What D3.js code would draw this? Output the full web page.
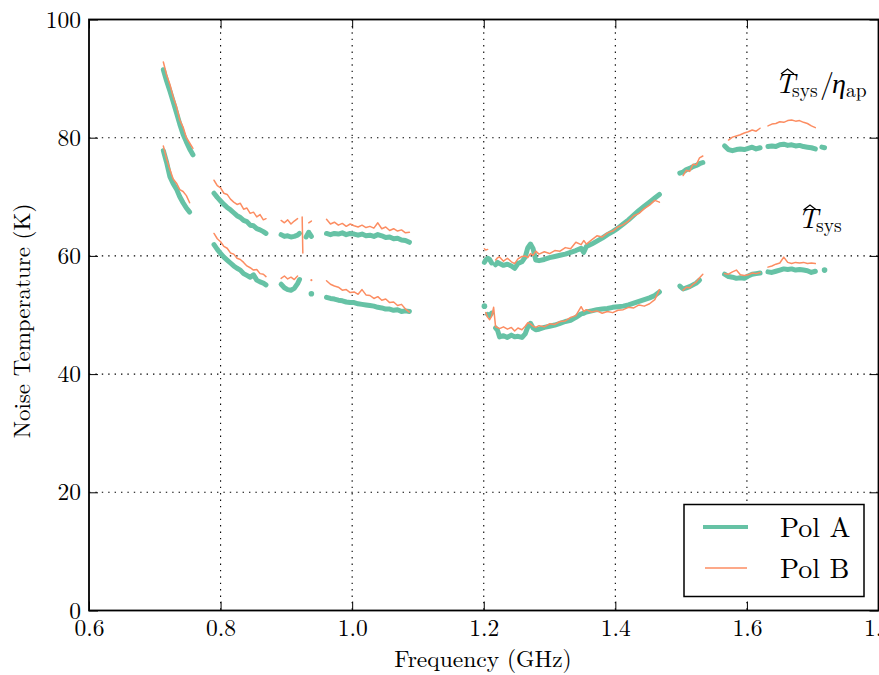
<!DOCTYPE html>
<html><head><meta charset="utf-8">
<script src="https://cdn.jsdelivr.net/npm/d3@7"></script>
<style>body{margin:0;background:#fff}</style>
</head><body>
<svg id="c" width="879" height="675"></svg>
<script>
// Frequency grid (GHz), shared by all series; null values = no data
const freq = [
  0.713,0.718,0.723,0.728,0.733,0.738,0.743,0.748,0.753,0.758,
  0.790,0.795,0.800,0.805,0.810,0.815,0.820,0.825,0.830,0.835,0.840,0.845,0.850,0.855,0.860,0.865,0.869,
  0.892,0.897,0.902,0.907,0.912,0.917,0.920,0.924,0.925,0.930,0.934,0.938,
  0.961,0.967,0.973,0.979,0.985,0.991,0.997,1.003,1.009,1.015,1.021,1.027,1.033,1.039,1.045,1.051,1.057,1.063,1.069,1.075,1.081,1.087,
  1.201,1.203,1.206,1.209,1.212,1.215,1.218,1.221,1.224,1.230,1.236,1.242,1.247,1.252,1.258,1.263,1.267,1.271,1.275,1.279,1.284,1.292,1.300,1.308,1.316,1.324,1.332,1.340,1.348,1.352,1.356,1.364,1.372,1.380,1.388,1.396,1.404,1.412,1.420,1.428,1.436,1.444,1.452,1.460,1.467,
  1.498,1.503,1.508,1.513,1.518,1.523,1.528,1.533,
  1.566,1.572,1.578,1.584,1.590,1.596,1.602,1.608,1.614,1.620,1.626,1.632,1.638,1.644,1.650,1.656,1.662,1.668,1.674,1.680,1.686,1.692,1.698,1.704,1.711,1.714,1.718
];
// Pol A, Tsys / eta_ap (K)
const polA_sysEta = [
  91.5,89.6,87.9,86.1,84.2,82.3,80.6,79.3,78.1,77.1,
  70.6,69.9,69.3,68.7,68.2,67.8,67.3,66.8,66.5,66.0,65.8,65.2,65.1,64.6,64.4,64.1,63.8,
  63.6,63.3,63.4,63.2,63.3,63.5,63.8,null,null,63.2,64.0,63.3,
  63.8,63.6,63.8,63.7,63.9,63.6,63.8,63.7,63.5,63.7,63.4,63.5,63.3,63.6,63.4,63.1,63.2,62.9,63.0,62.7,62.6,62.3,
  58.9,59.3,59.6,59.4,58.8,null,58.5,58.9,58.7,58.4,58.6,58.3,57.9,58.7,59.0,59.8,61.4,62.0,61.2,59.3,59.2,59.4,59.7,59.9,60.1,60.3,60.6,60.9,61.3,60.6,61.6,62.0,62.5,63.0,63.6,64.1,64.7,65.4,66.1,66.9,67.7,68.4,69.1,69.8,70.4,
  74.0,74.2,74.6,74.8,75.1,75.3,75.6,75.8,
  78.6,78.0,77.8,78.0,78.1,78.0,78.2,78.4,78.1,78.3,null,78.5,78.6,78.5,78.8,78.9,78.7,78.8,78.6,78.7,78.5,78.4,78.3,78.1,null,78.4,78.3
];
// Pol B, Tsys / eta_ap (K)
const polB_sysEta = [
  92.8,90.6,89.0,86.9,85.3,83.0,81.8,80.0,79.1,78.2,
  72.8,71.9,71.5,70.6,70.4,69.6,69.1,68.7,68.9,67.9,68.1,67.2,67.4,66.6,67.0,66.1,66.3,
  66.0,65.6,66.1,65.4,65.9,66.3,null,66.6,60.5,null,65.6,65.9,
  66.2,65.4,65.7,65.2,65.5,65.0,65.4,65.1,64.9,65.2,64.8,65.0,64.7,65.6,64.6,64.9,64.3,64.6,64.2,64.4,63.9,64.0,
  61.2,61.0,61.1,null,null,null,59.3,59.7,59.8,59.1,59.6,59.0,58.7,59.5,59.9,60.0,59.7,60.4,60.1,60.8,60.3,60.7,60.4,60.9,60.8,61.4,61.2,62.3,61.9,62.6,62.0,62.7,63.4,63.2,63.9,64.2,64.9,65.3,65.9,66.8,67.2,68.0,68.6,69.4,69.1,
  null,73.6,74.5,74.3,75.5,75.4,76.6,76.9,
  null,79.6,80.1,80.3,80.5,80.8,81.0,81.3,81.1,81.6,null,82.0,82.3,82.4,82.7,82.6,82.9,83.0,82.8,82.9,82.6,82.4,82.0,81.7,null,null,null
];
// Pol A, Tsys (K)
const polA_sys = [
  77.8,75.8,73.4,72.2,71.3,70.0,69.0,68.1,67.4,null,
  61.9,61.1,60.4,59.8,59.3,58.8,58.3,57.9,57.6,57.0,56.7,56.4,56.8,55.9,55.6,55.4,55.1,
  55.2,54.6,54.3,54.2,54.5,55.3,56.0,null,null,null,null,53.6,
  53.0,52.8,52.7,52.5,52.4,52.2,52.1,52.1,51.9,51.8,51.7,51.6,51.5,51.3,51.2,51.0,51.0,50.8,50.9,50.6,50.7,50.6,
  51.5,null,50.1,49.9,50.3,null,47.8,47.4,46.3,46.5,46.2,46.6,46.3,46.4,46.2,46.8,48.0,48.6,47.8,47.5,47.6,47.9,48.1,48.3,48.6,48.9,49.1,49.6,50.2,50.3,50.5,50.7,50.9,51.0,51.1,51.3,51.4,51.5,51.7,52.0,52.3,52.6,52.9,53.3,53.9,
  54.9,54.4,54.6,54.8,55.1,55.4,55.9,null,
  56.9,56.5,56.4,56.2,56.3,56.2,56.6,56.9,57.0,57.1,null,57.3,57.2,57.4,57.6,57.8,57.7,57.8,57.6,57.7,57.6,57.5,57.2,57.4,null,null,57.6
];
// Pol B, Tsys (K)
const polB_sys = [
  78.6,76.4,74.6,73.0,72.3,71.2,70.9,70.2,69.0,null,
  63.8,62.9,62.4,61.6,61.3,60.5,60.3,59.6,59.4,58.9,58.3,58.0,57.6,57.7,57.0,56.9,56.5,
  56.2,56.6,56.1,56.4,56.0,56.6,null,null,null,null,null,55.9,
  55.8,55.2,54.9,54.7,54.2,54.3,53.8,53.9,53.5,54.3,53.4,53.3,52.8,53.1,52.5,52.7,52.1,52.2,51.6,51.8,51.0,50.5,
  null,50.4,49.6,49.2,49.8,51.3,48.0,47.9,47.7,48.0,47.6,47.9,47.3,47.8,47.5,48.1,48.7,48.5,48.1,47.9,48.2,48.0,48.5,48.4,48.9,49.0,49.6,49.9,51.4,50.6,50.9,50.5,50.7,50.3,50.6,50.4,50.8,50.9,51.3,51.2,51.7,51.5,51.9,52.6,54.3,
  null,54.2,54.7,54.6,55.2,55.6,56.3,56.9,
  57.0,56.9,57.3,57.6,56.8,56.7,56.8,57.1,57.0,57.2,null,58.1,58.3,58.6,58.8,59.8,58.9,58.7,58.9,58.8,58.9,58.7,58.8,58.7,null,null,null
];
const xTicks = [0.6,0.8,1.0,1.2,1.4,1.6,1.8];
const yTicks = [0,20,40,60,80,100];
const legendLabels = ["Pol A","Pol B"];

const colA = "#66c2a5", colB = "#fc8d62";
const FONT = '"Latin Modern Roman","Liberation Serif",serif';
const svg = d3.select("#c");
const L = 89, R = 878.5, T = 19.5, B = 610.5;
const x = d3.scaleLinear().domain([0.6,1.8]).range([L,R]);
const y = d3.scaleLinear().domain([0,100]).range([B,T]);

// grid
const grid = svg.append("g").attr("stroke","#000").attr("stroke-width",1.1).attr("stroke-dasharray","1.4,5");
grid.selectAll("line.gx").data(xTicks.slice(1,-1)).join("line")
  .attr("x1",d=>x(d)).attr("x2",d=>x(d)).attr("y1",T).attr("y2",B);
grid.selectAll("line.gy").data(yTicks.slice(1,-1)).join("line")
  .attr("x1",L).attr("x2",R).attr("y1",d=>y(d)).attr("y2",d=>y(d));

// data runs
function runs(vals){
  const out=[]; let cur=[];
  for(let i=0;i<freq.length;i++){
    const v=vals[i];
    if(v==null){ if(cur.length) out.push(cur); cur=[]; continue; }
    if(cur.length && freq[i]-freq[i-1]>0.012){ out.push(cur); cur=[]; }
    cur.push([freq[i],v]);
  }
  if(cur.length) out.push(cur);
  return out;
}
const line = d3.line().x(d=>x(d[0])).y(d=>y(d[1]));
function drawSeries(vals,color,w){
  const g = svg.append("g");
  runs(vals).forEach(r=>{
    if(r.length>1){
      g.append("path").attr("d",line(r)).attr("fill","none").attr("stroke",color)
        .attr("stroke-width",w).attr("stroke-linejoin","round").attr("stroke-linecap","round");
    } else {
      g.append("circle").attr("cx",x(r[0][0])).attr("cy",y(r[0][1])).attr("r",w/2+0.3).attr("fill",color);
    }
  });
}
drawSeries(polA_sysEta,colA,5);
drawSeries(polA_sys,colA,5);
drawSeries(polB_sysEta,colB,1.5);
drawSeries(polB_sys,colB,1.5);

// axes
const fmt = d3.format(".1f");
svg.append("g").attr("transform",`translate(0,${B})`)
  .call(d3.axisBottom(x).tickValues(xTicks).tickSize(-9).tickPadding(9).tickFormat(fmt));
svg.append("g").attr("transform",`translate(0,${T})`)
  .call(d3.axisTop(x).tickValues(xTicks).tickSize(-9).tickFormat(""));
svg.append("g").attr("transform",`translate(${L},0)`)
  .call(d3.axisLeft(y).tickValues(yTicks).tickSize(-9).tickPadding(8));
svg.append("g").attr("transform",`translate(${R},0)`)
  .call(d3.axisRight(y).tickValues(yTicks).tickSize(-9).tickFormat(""));
svg.selectAll(".domain").remove();
svg.selectAll(".tick line").attr("stroke","#000").attr("stroke-width",1);
svg.selectAll(".tick text").style("font-family",FONT).style("font-size","23.5px").attr("fill","#000");

// frame
svg.append("rect").attr("x",L).attr("y",T).attr("width",R-L).attr("height",B-T)
  .attr("fill","none").attr("stroke","#000").attr("stroke-width",1.8);

// axis labels
svg.append("text").attr("x",483).attr("y",667).attr("text-anchor","middle")
  .style("font-family",FONT).style("font-size","23.5px").text("Frequency (GHz)");
svg.append("text").attr("transform","translate(30,321) rotate(-90)").attr("text-anchor","middle")
  .style("font-family",FONT).style("font-size","23px").text("Noise Temperature (K)");

// annotations
function hat(cx,yb){
  svg.append("path").attr("d",`M${cx-6.5},${yb} L${cx},${yb-5} L${cx+6.5},${yb}`)
    .attr("fill","none").attr("stroke","#000").attr("stroke-width",1.3);
}
const a1 = svg.append("text").style("font-family",FONT).style("font-size","28px");
a1.append("tspan").attr("x",775).attr("y",93).style("font-style","italic").text("T");
a1.append("tspan").attr("x",792).attr("y",97).style("font-size","19.5px").text("sys");
a1.append("tspan").attr("x",820).attr("y",93).text("/");
a1.append("tspan").attr("x",832).attr("y",93).style("font-style","italic").text("η");
a1.append("tspan").attr("x",846).attr("y",97).style("font-size","19.5px").text("ap");
hat(787.5,74);
const a2 = svg.append("text").style("font-family",FONT).style("font-size","28px");
a2.append("tspan").attr("x",798).attr("y",228).style("font-style","italic").text("T");
a2.append("tspan").attr("x",816).attr("y",232).style("font-size","19.5px").text("sys");
hat(810,210);

// legend
const lg = svg.append("g");
lg.append("rect").attr("x",684).attr("y",504.5).attr("width",180).attr("height",92)
  .attr("fill","#fff").attr("stroke","#000").attr("stroke-width",1.5);
lg.append("line").attr("x1",703).attr("x2",748).attr("y1",527).attr("y2",527).attr("stroke",colA).attr("stroke-width",4);
lg.append("line").attr("x1",705).attr("x2",747).attr("y1",568).attr("y2",568).attr("stroke",colB).attr("stroke-width",1.5);
lg.append("text").attr("x",780).attr("y",537).style("font-family",FONT).style("font-size","28px").text(legendLabels[0]);
lg.append("text").attr("x",780).attr("y",578).style("font-family",FONT).style("font-size","28px").text(legendLabels[1]);
</script>
</body></html>
